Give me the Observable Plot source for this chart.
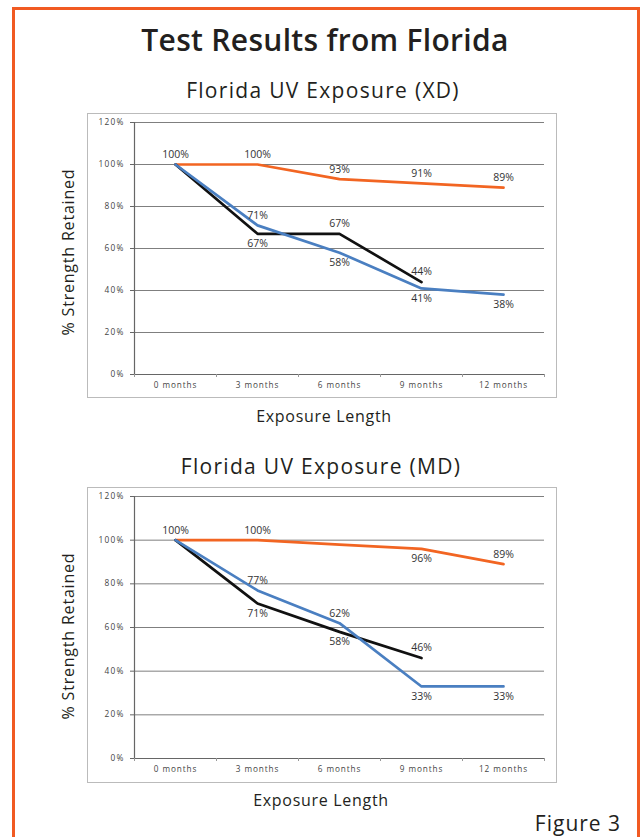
<!DOCTYPE html>
<html>
<head>
<meta charset="utf-8">
<script src="https://cdn.jsdelivr.net/npm/d3@7"></script>
<script src="https://cdn.jsdelivr.net/npm/@observablehq/plot@0.6"></script>
<style>
  html, body { margin: 0; padding: 0; background: #fff; }
  body { width: 640px; height: 837px; position: relative; overflow: hidden; font-family: "Open Sans", sans-serif; color: #222; }
  .frame { position: absolute; left: 12px; top: 7px; width: 622px; height: 840px; border: 3px solid #f15a22; border-bottom: none; }
  .t { position: absolute; white-space: nowrap; transform: translate(-50%, -50%); }
  .title { font-weight: 600; font-size: 30px; color: #231f20; letter-spacing: 0.3px; }
  .sub { font-size: 21px; color: #231f20; letter-spacing: 1.3px; }
  .xt { font-size: 16px; color: #231f20; letter-spacing: 0.7px; }
  .yt { font-size: 16px; color: #231f20; letter-spacing: 0.8px; transform: translate(-50%, -50%) rotate(-90deg); }
  .fig { font-size: 21px; color: #231f20; letter-spacing: 1px; }
  .chart { position: absolute; left: 87px; }
  .chart svg { border: 1px solid #bbb; display: block; }
  .chart g[aria-label="y-axis tick label"] text { letter-spacing: 1.2px; }
  .chart g[aria-label="x-axis tick label"] text { letter-spacing: 0.9px; }
</style>
</head>
<body>
<div class="frame"></div>
<div class="t title" style="left:325px; top:39px;">Test Results from Florida</div>
<div class="t sub" style="left:323px; top:90px;">Florida UV Exposure (XD)</div>
<div class="t yt" style="left:68px; top:252px;">% Strength Retained</div>
<div class="chart" id="c1" style="top:113px;"></div>
<div class="t xt" style="left:324px; top:416px;">Exposure Length</div>
<div class="t sub" style="left:321px; top:466px;">Florida UV Exposure (MD)</div>
<div class="t yt" style="left:68px; top:636px;">% Strength Retained</div>
<div class="chart" id="c2" style="top:487px;"></div>
<div class="t xt" style="left:321px; top:800px;">Exposure Length</div>
<div class="t fig" style="left:578px; top:823px;">Figure 3</div>
<script>
// ---- data ----
const months = ["0 months", "3 months", "6 months", "9 months", "12 months"];
const yTicks = [0, 20, 40, 60, 80, 100, 120];

// XD
const xdOrange = [100, 100, 93, 91, 89];
const xdBlack  = [100, 67, 67, 44, null];
const xdBlue   = [100, 71, 58, 41, 38];
// MD
const mdOrange = [100, 100, 98, 96, 89];
const mdBlack  = [100, 71, 58, 46, null];
const mdBlue   = [100, 77, 62, 33, 33];

// which points carry a value label, and on which side of the line
const xdLabelSide = {
  orange: ["above", "above", "above", "above", "above"],
  black:  [null, "below", "above", "above", null],
  blue:   [null, "above", "below", "below", "below"]
};
const mdLabelSide = {
  orange: ["above", "above", null, "below", "above"],
  black:  [null, "below", "below", "above", null],
  blue:   [null, "above", "above", "below", "below"]
};

const colors = { orange: "#f26522", black: "#111111", blue: "#4a7fc1" };

function rows(values) {
  return values.map((v, i) => ({ i, v })).filter(d => d.v != null);
}
function labelRows(values, sides, side) {
  return values.map((v, i) => ({ i, v, s: sides[i] })).filter(d => d.v != null && d.s === side);
}

function chart(series, sides, height, marginBottom) {
  const marks = [
    Plot.gridY(yTicks, { stroke: "#7f7f7f", strokeOpacity: 1, strokeWidth: 1 }),
    Plot.ruleX([-0.5], { stroke: "#666", strokeWidth: 1.2 }),
    Plot.ruleY([0], { stroke: "#666", strokeWidth: 1.2 }),
    Plot.axisY(yTicks, { label: null, tickFormat: d => d + "%", tickSize: 4, tickPadding: 6, fontSize: 8.3, stroke: "#666", fill: "#444" }),
    Plot.axisX([-0.5, 0.5, 1.5, 2.5, 3.5, 4.5], { label: null, tickSize: 3, tickFormat: () => "", stroke: "#999" }),
    Plot.axisX([0, 1, 2, 3, 4], { label: null, tickSize: 0, tickPadding: 8, tickFormat: i => months[i], fontSize: 8.2, fill: "#444" })
  ];
  for (const key of ["orange", "black", "blue"]) {
    marks.push(Plot.line(rows(series[key]), { x: "i", y: "v", stroke: colors[key], strokeWidth: 2.7 }));
  }
  for (const key of ["orange", "black", "blue"]) {
    marks.push(Plot.text(labelRows(series[key], sides[key], "above"), { x: "i", y: "v", text: d => d.v + "%", dy: -10, fontSize: 10.5, fill: "#333" }));
    marks.push(Plot.text(labelRows(series[key], sides[key], "below"), { x: "i", y: "v", text: d => d.v + "%", dy: 10, fontSize: 10.5, fill: "#333" }));
  }
  return Plot.plot({
    width: 468, height,
    marginLeft: 46, marginRight: 12, marginTop: 8, marginBottom,
    style: { fontFamily: "'Open Sans', sans-serif", background: "#fff", overflow: "visible" },
    x: { domain: [-0.5, 4.5], axis: null },
    y: { domain: [0, 120], axis: null },
    marks
  });
}

document.getElementById("c1").appendChild(
  chart({ orange: xdOrange, black: xdBlack, blue: xdBlue }, xdLabelSide, 283, 23));
document.getElementById("c2").appendChild(
  chart({ orange: mdOrange, black: mdBlack, blue: mdBlue }, mdLabelSide, 294, 24));
</script>
</body>
</html>
